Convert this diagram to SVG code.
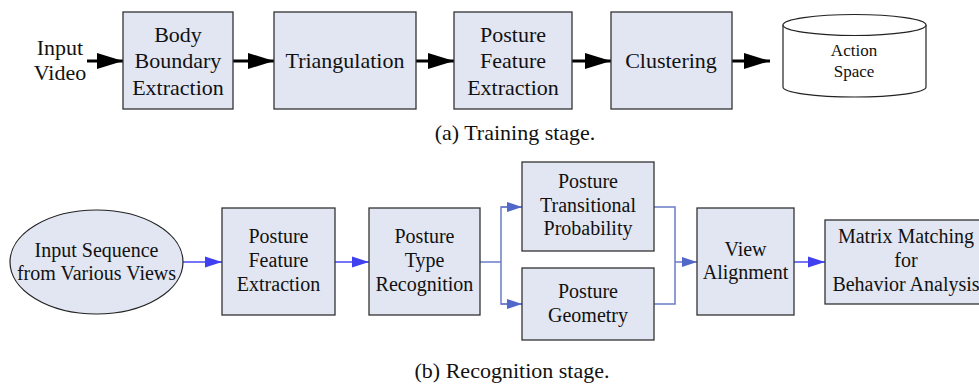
<svg xmlns="http://www.w3.org/2000/svg" width="979" height="384" viewBox="0 0 979 384">
<defs>
<style>
.box{fill:#e2e6f2;stroke:#333;stroke-width:1.3}
.t{font-family:"Liberation Serif","Times New Roman",serif;fill:#111;text-anchor:middle}
.big{font-size:22px}
.mid{font-size:20px}
.sm{font-size:17px}
.blk{stroke:#000;stroke-width:3;fill:none}
.bl1{stroke:#4848f0;stroke-width:1.5;fill:none}
.bl2{stroke:#6a7cc8;stroke-width:1.5;fill:none}
</style>
<marker id="ah" markerUnits="userSpaceOnUse" markerWidth="26" markerHeight="18" refX="26" refY="9" orient="auto"><path d="M0,1 L26,9 L0,17 Z" fill="#000"/></marker>
<marker id="ab" markerUnits="userSpaceOnUse" markerWidth="17" markerHeight="12" refX="17" refY="6" orient="auto"><path d="M0,0.5 L17,6 L0,11.5 Z" fill="#4040f0"/></marker>
<marker id="ab2" markerUnits="userSpaceOnUse" markerWidth="15" markerHeight="12" refX="15" refY="6" orient="auto"><path d="M0,1 L15,6 L0,11 Z" fill="#5068c8"/></marker>
</defs>

<g id="connectors">
<line class="blk" x1="87" y1="61" x2="123" y2="61" marker-end="url(#ah)"/>
<line class="blk" x1="233" y1="61" x2="274" y2="61" marker-end="url(#ah)"/>
<line class="blk" x1="416" y1="61" x2="454" y2="61" marker-end="url(#ah)"/>
<line class="blk" x1="572" y1="61" x2="611" y2="61" marker-end="url(#ah)"/>
<line class="blk" x1="732" y1="61" x2="770" y2="61" marker-end="url(#ah)"/>
<line class="bl1" x1="183" y1="262" x2="222" y2="262" marker-end="url(#ab)"/>
<line class="bl1" x1="335" y1="262" x2="369" y2="262" marker-end="url(#ab)"/>
<polyline class="bl2" points="480,262 501,262"/>
<polyline class="bl2" points="522,207 501,207 501,304 522,304"/>
<line class="bl2" x1="501" y1="207" x2="522" y2="207" marker-end="url(#ab2)"/>
<line class="bl2" x1="501" y1="304" x2="522" y2="304" marker-end="url(#ab2)"/>
<polyline class="bl2" points="654,207 675,207 675,304 654,304"/>
<line class="bl2" x1="675" y1="262" x2="697" y2="262" marker-end="url(#ab2)"/>
<line class="bl1" x1="794" y1="262" x2="825" y2="262" marker-end="url(#ab)"/>
</g>

<g id="input-video">
<text class="t big" x="60" y="55">Input</text>
<text class="t big" x="60" y="80">Video</text>
</g>
<g id="body-boundary">
<rect class="box" x="123" y="12" width="110" height="97"/>
<text class="t big" x="178" y="42">Body</text>
<text class="t big" x="178" y="68">Boundary</text>
<text class="t big" x="178" y="95">Extraction</text>
</g>
<g id="triangulation">
<rect class="box" x="274" y="12" width="142" height="97"/>
<text class="t big" x="345" y="68">Triangulation</text>
</g>
<g id="posture-feature-a">
<rect class="box" x="454" y="12" width="118" height="97"/>
<text class="t big" x="513" y="42">Posture</text>
<text class="t big" x="513" y="68">Feature</text>
<text class="t big" x="513" y="95">Extraction</text>
</g>
<g id="clustering">
<rect class="box" x="611" y="12" width="121" height="97"/>
<text class="t big" x="671" y="68">Clustering</text>
</g>
<g id="action-space">
<path d="M783,25 L783,87 A71.5,10 0 0 0 926,87 L926,25" fill="#fff" stroke="#222" stroke-width="1.2"/>
<ellipse cx="854.5" cy="25" rx="71.5" ry="10.5" fill="#fff" stroke="#222" stroke-width="1.2"/>
<text class="t sm" x="854" y="56">Action</text>
<text class="t sm" x="854" y="77">Space</text>
</g>
<g id="caption-a">
<text class="t big" x="515" y="140">(a) Training stage.</text>
</g>

<g id="input-sequence">
<ellipse cx="96.5" cy="262" rx="86.5" ry="52" fill="#e2e6f2" stroke="#222" stroke-width="1.2"/>
<text class="t mid" x="96.5" y="257">Input Sequence</text>
<text class="t mid" x="96.5" y="280">from Various Views</text>
</g>
<g id="posture-feature-b">
<rect class="box" x="222" y="208" width="113" height="107"/>
<text class="t mid" x="278.5" y="243">Posture</text>
<text class="t mid" x="278.5" y="267">Feature</text>
<text class="t mid" x="278.5" y="291">Extraction</text>
</g>
<g id="posture-type">
<rect class="box" x="369" y="208" width="111" height="107"/>
<text class="t mid" x="424.5" y="243">Posture</text>
<text class="t mid" x="424.5" y="267">Type</text>
<text class="t mid" x="424.5" y="291">Recognition</text>
</g>
<g id="posture-transitional">
<rect class="box" x="522" y="162" width="132" height="89"/>
<text class="t mid" x="588" y="188">Posture</text>
<text class="t mid" x="588" y="212">Transitional</text>
<text class="t mid" x="588" y="235">Probability</text>
</g>
<g id="posture-geometry">
<rect class="box" x="522" y="268" width="132" height="72"/>
<text class="t mid" x="588" y="298">Posture</text>
<text class="t mid" x="588" y="322">Geometry</text>
</g>
<g id="view-alignment">
<rect class="box" x="697" y="208" width="97" height="107"/>
<text class="t mid" x="745.5" y="256">View</text>
<text class="t mid" x="745.5" y="279">Alignment</text>
</g>
<g id="matrix-matching">
<rect class="box" x="825" y="220" width="162" height="84"/>
<text class="t mid" x="906" y="243">Matrix Matching</text>
<text class="t mid" x="906" y="267">for</text>
<text class="t mid" x="906" y="291">Behavior Analysis</text>
</g>
<g id="caption-b">
<text class="t big" x="512" y="378">(b) Recognition stage.</text>
</g>
</svg>
